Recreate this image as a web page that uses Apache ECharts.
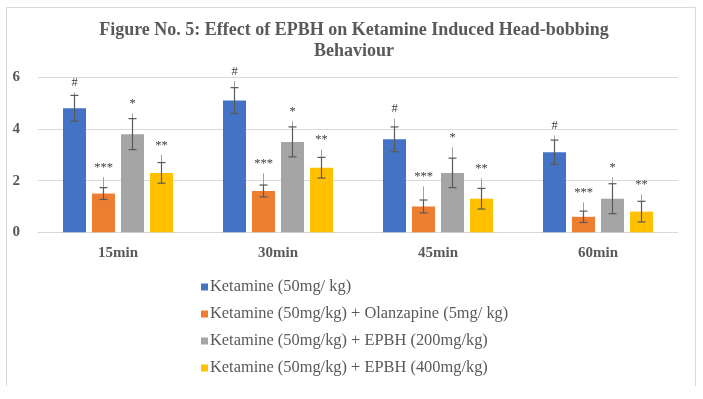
<!DOCTYPE html>
<html>
<head>
<meta charset="utf-8">
<script src="https://cdn.jsdelivr.net/npm/echarts@6/dist/echarts.min.js"></script>
<style>html,body{margin:0;padding:0;background:#fff}#c{width:703px;height:399px}</style>
</head>
<body>
<div id="c"></div>
<script>
var categories = ['15min', '30min', '45min', '60min'];
var seriesNames = ['Ketamine (50mg/ kg)', 'Ketamine (50mg/kg) + Olanzapine (5mg/ kg)', 'Ketamine (50mg/kg) + EPBH (200mg/kg)', 'Ketamine (50mg/kg) + EPBH (400mg/kg)'];
var ketamine = [4.8, 5.1, 3.6, 3.1];
var olanzapine = [1.5, 1.6, 1.0, 0.6];
var epbh200 = [3.8, 3.5, 2.3, 1.3];
var epbh400 = [2.3, 2.5, 1.3, 0.8];
// error (± cap)
var errKetamine = [0.5, 0.5, 0.48, 0.47];
var errOlanzapine = [0.23, 0.23, 0.25, 0.22];
var errEpbh200 = [0.6, 0.58, 0.57, 0.58];
var errEpbh400 = [0.4, 0.4, 0.4, 0.4];
// upper end of the thin extension line
var extKetamine = [5.42, 5.85, 4.4, 3.75];
var extOlanzapine = [2.13, 2.28, 1.78, 1.16];
var extEpbh200 = [4.6, 4.3, 3.29, 2.13];
var extEpbh400 = [3.0, 3.2, 2.09, 1.47];
var signif = ['#', '***', '*', '**'];
var yTicks = [0, 2, 4, 6];

var colors = ['#4472c4', '#ed7d31', '#a5a5a5', '#ffc000'];
var values = [ketamine, olanzapine, epbh200, epbh400];
var errs = [errKetamine, errOlanzapine, errEpbh200, errEpbh400];
var exts = [extKetamine, extOlanzapine, extEpbh200, extEpbh400];
var BW = 23, GAP = 6;
var serif = '"Liberation Serif", "DejaVu Serif", serif';

var series = [];
values.forEach(function (v, i) {
  series.push({
    name: seriesNames[i], type: 'bar', data: v, barWidth: BW, barGap: (GAP / BW * 100) + '%',
    itemStyle: { color: colors[i] }, emphasis: { disabled: true }
  });
});
values.forEach(function (v, i) {
  var offset = (i - 1.5) * (BW + GAP);
  var data = v.map(function (val, k) { return [k, val, errs[i][k], exts[i][k]]; });
  series.push({
    type: 'custom', name: seriesNames[i] + ' err', data: data, z: 10, silent: true,
    encode: { x: 0, y: [1, 3] },
    renderItem: function (params, api) {
      var k = api.value(0), val = api.value(1), e = api.value(2), ext = api.value(3);
      var top = api.coord([k, val + e]);
      var bot = api.coord([k, val - e]);
      var ex = api.coord([k, ext]);
      var x = top[0] + offset;
      var cw = 4;
      return {
        type: 'group', children: [
          { type: 'line', shape: { x1: x, y1: ex[1], x2: x, y2: top[1] }, style: { stroke: '#a0a0a0', lineWidth: 1 } },
          { type: 'line', shape: { x1: x, y1: top[1], x2: x, y2: bot[1] }, style: { stroke: '#595959', lineWidth: 1.2 } },
          { type: 'line', shape: { x1: x - cw, y1: top[1], x2: x + cw, y2: top[1] }, style: { stroke: '#595959', lineWidth: 1.2 } },
          { type: 'line', shape: { x1: x - cw, y1: bot[1], x2: x + cw, y2: bot[1] }, style: { stroke: '#595959', lineWidth: 1.2 } },
          { type: 'text', style: { x: x, y: ex[1] - 3, text: signif[i], textAlign: 'center', textVerticalAlign: 'bottom', fill: '#404040', font: '12.5px ' + serif } }
        ]
      };
    }
  });
});

var chart = echarts.init(document.getElementById('c'), null, { renderer: 'canvas' });
chart.setOption({
  animation: false,
  backgroundColor: '#fff',
  title: {
    text: 'Figure No. 5: Effect of EPBH on Ketamine Induced Head-bobbing\nBehaviour',
    left: 349, top: 15, textAlign: 'center',
    textStyle: { fontFamily: serif, fontWeight: 'bold', fontSize: 18, color: '#595959', lineHeight: 21 }
  },
  legend: {
    orient: 'vertical', left: 196, top: 274, itemWidth: 7, itemHeight: 7, itemGap: 11, icon: 'rect',
    data: seriesNames,
    textStyle: { fontFamily: serif, fontSize: 16.4, lineHeight: 16, color: '#595959', padding: [0, 0, 0, -3] }
  },
  grid: { left: 38, right: 25, top: 77.3, bottom: 399 - 232.3 },
  xAxis: {
    type: 'category', data: categories,
    axisLine: { lineStyle: { color: '#d9d9d9' } }, axisTick: { show: false },
    axisLabel: { fontFamily: serif, fontWeight: 'bold', fontSize: 15, color: '#595959', margin: 13 }
  },
  yAxis: {
    type: 'value', min: 0, max: 6, interval: 2,
    axisLine: { show: false }, axisTick: { show: false },
    splitLine: { lineStyle: { color: '#d9d9d9' } },
    axisLabel: { fontFamily: serif, fontWeight: 'bold', fontSize: 15, color: '#595959', margin: 18,
      formatter: function (v) { return yTicks.indexOf(v) >= 0 ? String(v) : ''; } }
  },
  graphic: [{
    type: 'polyline', silent: true,
    shape: { points: [[6.5, 386], [6.5, 7.5], [695.5, 7.5], [695.5, 386]] },
    style: { stroke: '#d9d9d9', lineWidth: 1, fill: null }
  }],
  series: series
});
</script>
</body>
</html>
